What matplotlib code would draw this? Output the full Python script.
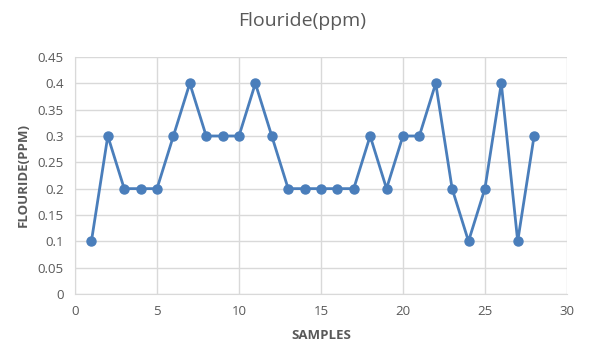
import matplotlib.pyplot as plt

samples = list(range(1, 29))
fluoride = [0.1, 0.3, 0.2, 0.2, 0.2, 0.3, 0.4, 0.3, 0.3, 0.3, 0.4, 0.3, 0.2, 0.2,
            0.2, 0.2, 0.2, 0.3, 0.2, 0.3, 0.3, 0.4, 0.2, 0.1, 0.2, 0.4, 0.1, 0.3]
yticks = [0, 0.05, 0.1, 0.15, 0.2, 0.25, 0.3, 0.35, 0.4, 0.45]
ytick_labels = ['0', '0.05', '0.1', '0.15', '0.2', '0.25', '0.3', '0.35', '0.4', '0.45']
xticks = [0, 5, 10, 15, 20, 25, 30]

plt.rcParams['font.family'] = ['Open Sans', 'DejaVu Sans']
fig = plt.figure(figsize=(6.05, 3.52), dpi=100)
ax = fig.add_axes([0.124, 0.165, 0.813, 0.673])

blue = '#4a7ebb'
ax.plot(samples, fluoride, color=blue, linewidth=2, marker='o', markersize=6.5,
        markerfacecolor=blue, markeredgecolor=blue, zorder=3)

ax.set_xlim(0, 30)
ax.set_ylim(0, 0.45)
ax.set_xticks(xticks)
ax.set_yticks(yticks)
ax.set_yticklabels(ytick_labels)
ax.grid(True, color='#d9d9d9', linewidth=1)
ax.set_axisbelow(True)
for s in ax.spines.values():
    s.set_visible(False)
ax.spines['left'].set_visible(True)
ax.spines['bottom'].set_visible(True)
ax.spines['left'].set_color('#d9d9d9')
ax.spines['bottom'].set_color('#d9d9d9')
ax.tick_params(length=0, colors='#595959', labelsize=9.5, pad=8)

ax.set_xlabel('SAMPLES', fontsize=9.5, fontweight='bold', color='#595959', labelpad=8)
ax.set_ylabel('FLOURIDE(PPM)', fontsize=9.5, fontweight='bold', color='#595959', labelpad=6)
fig.suptitle('Flouride(ppm)', fontsize=14, color='#595959', y=0.965)

fig.savefig('out.png', dpi=100)
